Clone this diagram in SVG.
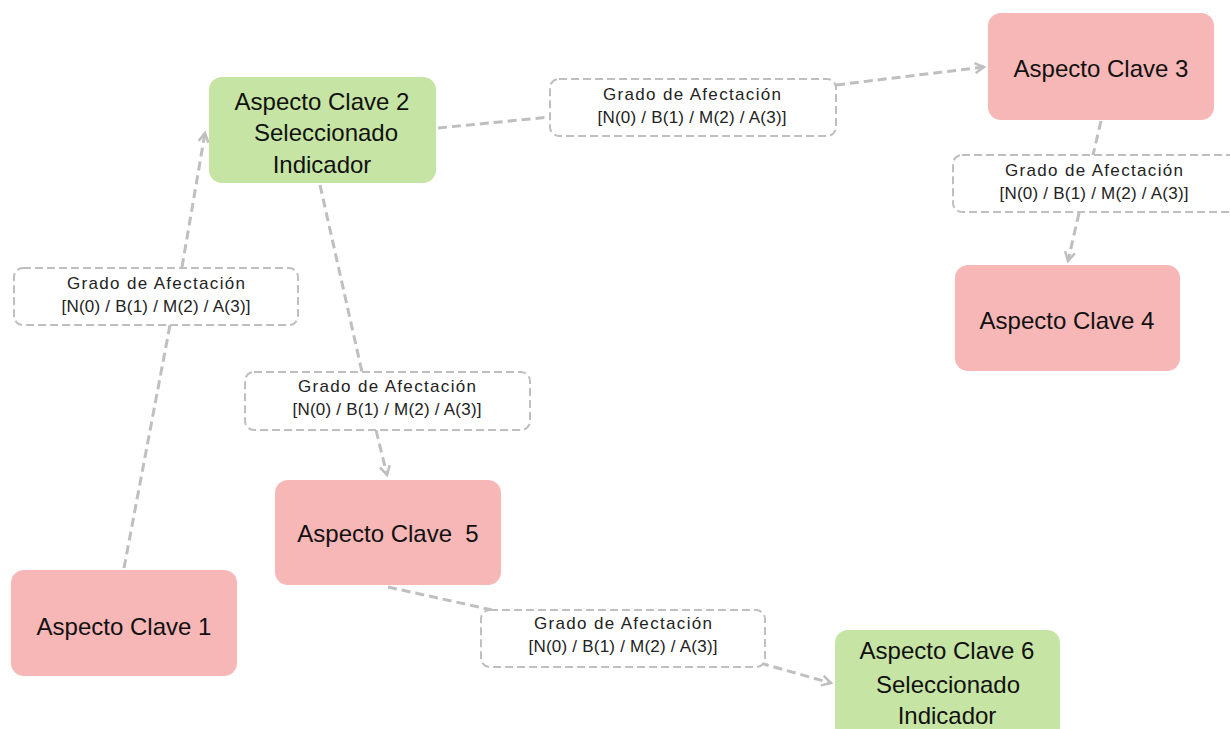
<svg xmlns="http://www.w3.org/2000/svg" width="1230" height="729" viewBox="0 0 1230 729">
<style>
.pink{fill:#F7B7B7;}
.green{fill:#C6E4A3;}
.nt{font-family:"Liberation Sans",Arial,sans-serif;font-size:24px;fill:#111;text-anchor:middle;dominant-baseline:central;}
.lb{fill:#fff;stroke:#BFBFBF;stroke-width:2;stroke-dasharray:8 4;}
.lt{font-family:"Liberation Sans",Arial,sans-serif;font-size:17px;fill:#222;text-anchor:middle;dominant-baseline:central;}
.ln{fill:none;stroke:#BFBFBF;stroke-width:3;stroke-dasharray:9 5;}
</style>
<defs>
<marker id="arr" viewBox="0 0 12 12" refX="10" refY="6" markerWidth="12" markerHeight="12" markerUnits="userSpaceOnUse" orient="auto">
<path d="M1,1 L10,6 L1,11" fill="none" stroke="#BFBFBF" stroke-width="2.5"/>
</marker>
</defs>
<rect width="1230" height="729" fill="#fff"/>
<g id="connectors">
<line class="ln" x1="124" y1="568" x2="170" y2="325"/>
<line class="ln" x1="182" y1="267" x2="205" y2="133" marker-end="url(#arr)"/>
<line class="ln" x1="438" y1="128" x2="550" y2="117"/>
<line class="ln" x1="836" y1="85" x2="984" y2="67" marker-end="url(#arr)"/>
<line class="ln" x1="1101" y1="121" x2="1093" y2="155"/>
<line class="ln" x1="1079" y1="213" x2="1068" y2="261" marker-end="url(#arr)"/>
<line class="ln" x1="320" y1="185" x2="362" y2="372"/>
<line class="ln" x1="376" y1="430" x2="387" y2="475" marker-end="url(#arr)"/>
<line class="ln" x1="388" y1="587" x2="492" y2="610"/>
<line class="ln" x1="760" y1="663" x2="831" y2="683" marker-end="url(#arr)"/>
</g>
<g id="node1">
<rect class="pink" x="11" y="570" width="226" height="106" rx="13"/>
<text class="nt" x="124" y="626">Aspecto Clave 1</text>
</g>
<g id="node2">
<rect class="green" x="209" y="77" width="227" height="106" rx="13"/>
<text class="nt" x="322" y="101">Aspecto Clave 2</text>
<text class="nt" x="326" y="132">Seleccionado</text>
<text class="nt" x="322" y="164">Indicador</text>
</g>
<g id="node3">
<rect class="pink" x="988" y="13" width="226" height="107" rx="13"/>
<text class="nt" x="1101" y="68">Aspecto Clave 3</text>
</g>
<g id="node4">
<rect class="pink" x="955" y="265" width="225" height="106" rx="13"/>
<text class="nt" x="1067" y="320">Aspecto Clave 4</text>
</g>
<g id="node5">
<rect class="pink" x="275" y="480" width="226" height="105" rx="13"/>
<text class="nt" x="388" y="533" xml:space="preserve">Aspecto Clave  5</text>
</g>
<g id="node6">
<rect class="green" x="835" y="630" width="225" height="110" rx="13"/>
<text class="nt" x="947" y="650">Aspecto Clave 6</text>
<text class="nt" x="948" y="684">Seleccionado</text>
<text class="nt" x="947" y="715">Indicador</text>
</g>
<g id="label1">
<rect class="lb" x="14" y="268" width="284" height="57" rx="9"/>
<text class="lt" x="156" y="283" textLength="178">Grado de Afectación</text>
<text class="lt" x="156" y="306" textLength="189">[N(0) / B(1) / M(2) / A(3)]</text>
</g>
<g id="label2">
<rect class="lb" x="550" y="79" width="286" height="57" rx="9"/>
<text class="lt" x="692" y="94" textLength="178">Grado de Afectación</text>
<text class="lt" x="692" y="117" textLength="189">[N(0) / B(1) / M(2) / A(3)]</text>
</g>
<g id="label3">
<rect class="lb" x="953" y="155" width="286" height="57" rx="9"/>
<text class="lt" x="1094" y="170" textLength="178">Grado de Afectación</text>
<text class="lt" x="1094" y="193" textLength="189">[N(0) / B(1) / M(2) / A(3)]</text>
</g>
<g id="label4">
<rect class="lb" x="245" y="372" width="285" height="58" rx="9"/>
<text class="lt" x="387" y="386" textLength="178">Grado de Afectación</text>
<text class="lt" x="387" y="409" textLength="189">[N(0) / B(1) / M(2) / A(3)]</text>
</g>
<g id="label5">
<rect class="lb" x="481" y="610" width="284" height="57" rx="9"/>
<text class="lt" x="623" y="623" textLength="178">Grado de Afectación</text>
<text class="lt" x="623" y="646" textLength="189">[N(0) / B(1) / M(2) / A(3)]</text>
</g>
</svg>
